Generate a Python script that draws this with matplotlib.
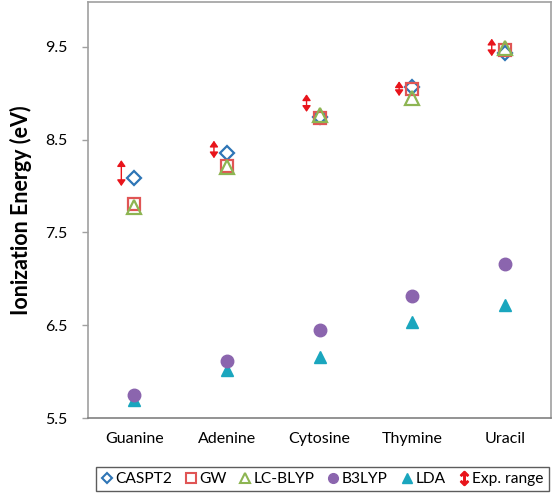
import matplotlib
matplotlib.use("Agg")
import matplotlib.pyplot as plt
from matplotlib.lines import Line2D

plt.rcParams['font.family'] = ['Lato', 'DejaVu Sans']

bases = ["Guanine", "Adenine", "Cytosine", "Thymine", "Uracil"]
caspt2 = [8.09, 8.36, 8.74, 9.07, 9.43]
gw = [7.81, 8.22, 8.73, 9.05, 9.47]
lc_blyp = [7.78, 8.21, 8.77, 8.95, 9.49]
b3lyp = [5.75, 6.11, 6.45, 6.81, 7.16]
lda = [5.69, 6.02, 6.16, 6.53, 6.72]
exp_low = [8.00, 8.30, 8.80, 8.97, 9.40]
exp_high = [8.28, 8.49, 8.99, 9.13, 9.59]
y_ticks = [5.5, 6.5, 7.5, 8.5, 9.5]

fig = plt.figure(figsize=(5.54, 4.93), dpi=100)
ax = fig.add_axes([88 / 554, 75 / 493, 463 / 554, 416 / 493])

x = list(range(1, len(bases) + 1))
red = '#E8141B'

# experimental ranges as double arrows, slightly left of each category
for xi, lo, hi in zip(x, exp_low, exp_high):
    ax.annotate('', xy=(xi - 0.14, hi), xytext=(xi - 0.14, lo),
                arrowprops=dict(arrowstyle='<|-|>,head_length=0.4,head_width=0.28',
                                mutation_scale=9, color=red, lw=1.0,
                                shrinkA=0, shrinkB=0))

ax.plot(x, lda, linestyle='none', marker='^', ms=9, color='#1AA6BE', zorder=3)
ax.plot(x, b3lyp, linestyle='none', marker='o', ms=9, color='#8B65AE', zorder=3)
ax.plot(x, caspt2, linestyle='none', marker='D', ms=7.5, mfc='none', mec='#2E75B6', mew=1.6, zorder=4)
ax.plot(x, gw, linestyle='none', marker='s', ms=9, mfc='none', mec='#E05555', mew=1.6, zorder=4)
ax.plot(x, lc_blyp, linestyle='none', marker='^', ms=9.5, mfc='none', mec='#8DB552', mew=1.6, zorder=5)

ax.set_xlim(0.5, 5.5)
ax.set_ylim(5.5, 9.985)
ax.set_yticks(y_ticks)
ax.set_yticklabels([f"{v:.1f}" for v in y_ticks])
ax.set_xticks(x)
ax.set_xticklabels(bases)
ax.tick_params(axis='y', length=4.5, width=1, color='#A0A0A0', labelsize=11.5, pad=10)
ax.tick_params(axis='x', length=0, labelsize=11.5, pad=10)
for s in ax.spines.values():
    s.set_color('#A0A0A0')
    s.set_linewidth(1.2)
ax.spines['bottom'].set_color('#808080')
ax.set_ylabel("Ionization Energy (eV)", fontsize=15.5, fontweight='bold', labelpad=10)

handles = [
    Line2D([], [], linestyle='none', marker='D', ms=5.5, mfc='none', mec='#2E75B6', mew=1.5),
    Line2D([], [], linestyle='none', marker='s', ms=7, mfc='none', mec='#E05555', mew=1.5),
    Line2D([], [], linestyle='none', marker='^', ms=7.5, mfc='none', mec='#8DB552', mew=1.5),
    Line2D([], [], linestyle='none', marker='o', ms=7, color='#8B65AE'),
    Line2D([], [], linestyle='none', marker='^', ms=7.5, color='#1AA6BE'),
    Line2D([], [], linestyle='none', marker=r'$\updownarrow$', ms=10, color=red),
]
labels = ["CASPT2", "GW", "LC-BLYP", "B3LYP", "LDA", "Exp. range"]
leg = fig.legend(handles, labels, loc='center', bbox_to_anchor=(322.5 / 554, 1 - 479 / 493),
                 ncol=6, fontsize=11.2, frameon=True, fancybox=False, handlelength=0.7,
                 handletextpad=0.2, columnspacing=0.85, borderpad=0.3, borderaxespad=0)
leg.get_frame().set_edgecolor('#333333')
leg.get_frame().set_linewidth(1.0)

fig.savefig("out.png", dpi=100)
